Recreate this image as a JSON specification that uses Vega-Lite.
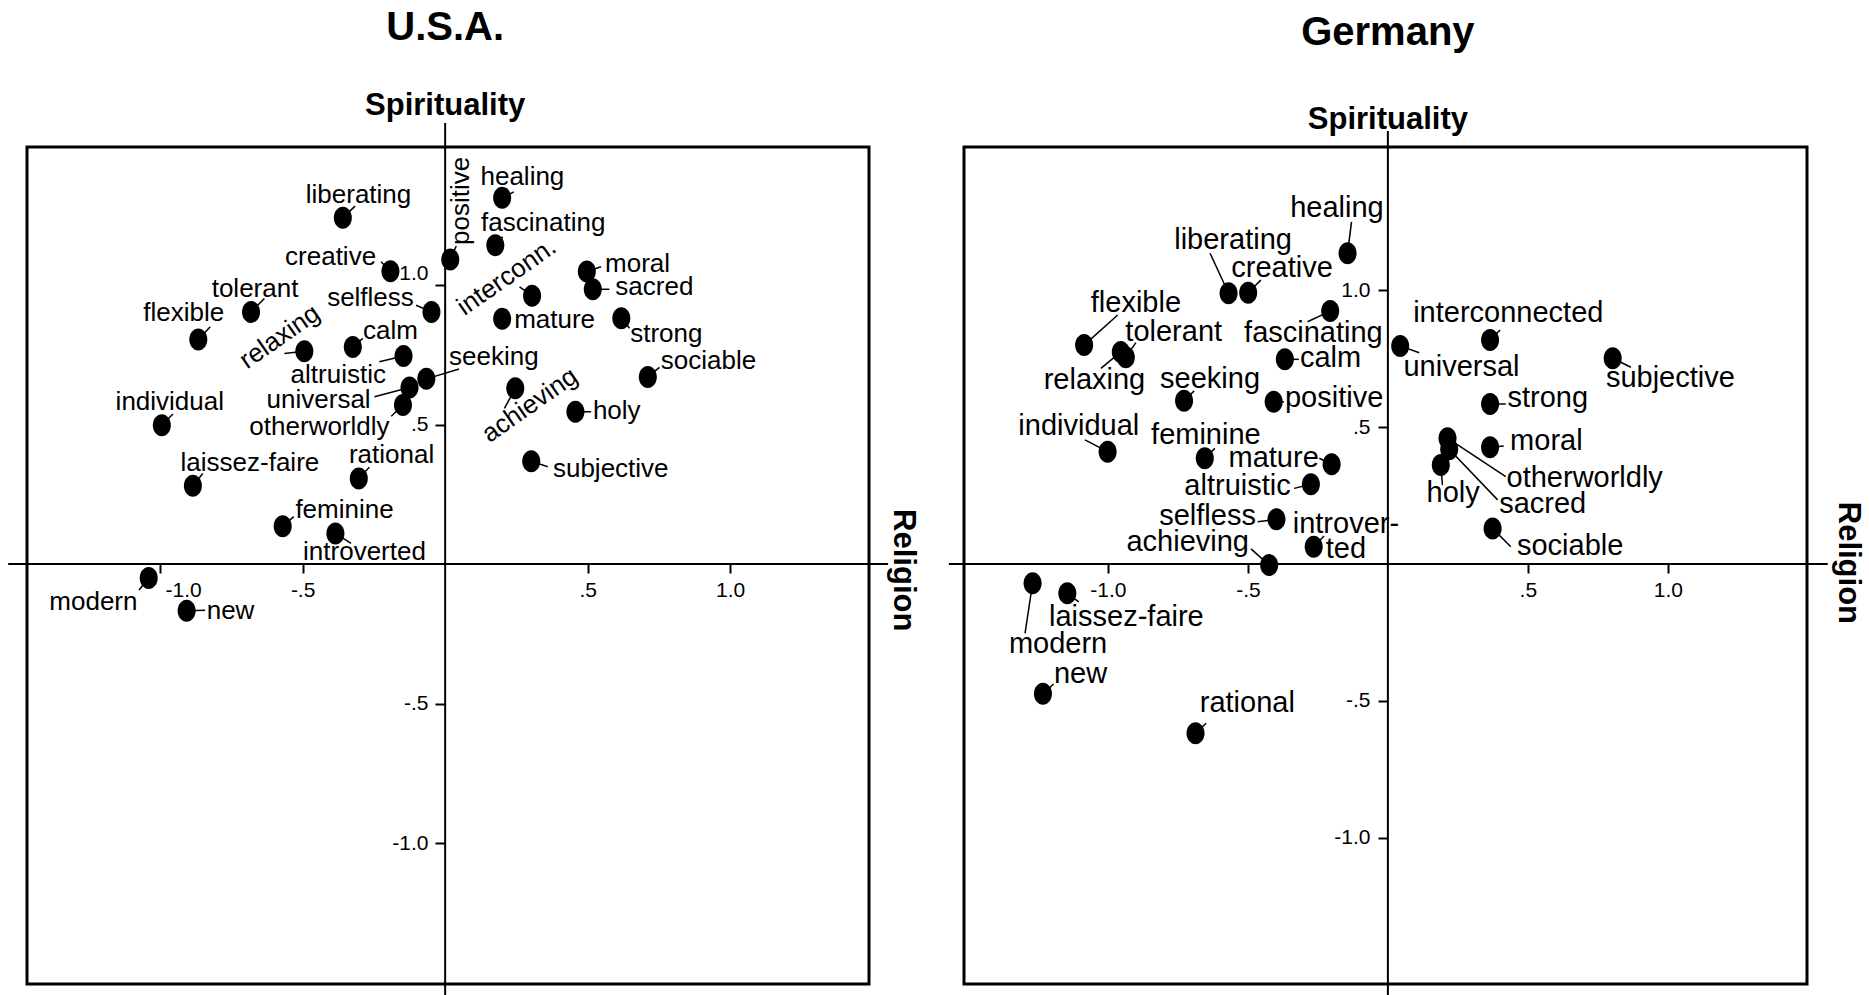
{
  "$schema": "https://vega.github.io/schema/vega-lite/v6.json",
  "background": "white",
  "padding": {"left": 5, "top": 6, "right": 0, "bottom": 0},
  "autosize": {"type": "pad"},
  "config": {
    "view": {"stroke": "black", "strokeWidth": 3},
    "text": {"font": "Liberation Sans", "color": "black"},
    "axis": {"labelFont": "Liberation Sans"}
  },
  "bounds": "flush",
  "spacing": 95,
  "datasets": {
    "terms": [
      {"country": "U.S.A.", "term": "healing", "label": "healing", "x": 0.200, "y": 1.313, "lx": 0.271, "ly": 1.358, "ex": 0.241, "ey": 1.334},
      {"country": "U.S.A.", "term": "liberating", "label": "liberating", "x": -0.359, "y": 1.241, "lx": -0.304, "ly": 1.295, "ex": -0.316, "ey": 1.283},
      {"country": "U.S.A.", "term": "creative", "label": "creative", "x": -0.192, "y": 1.050, "lx": -0.402, "ly": 1.072, "ex": -0.225, "ey": 1.084},
      {"country": "U.S.A.", "term": "positive", "label": "positive", "x": 0.018, "y": 1.092, "lx": 0.085, "ly": 1.302, "ex": 0.039, "ey": 1.140},
      {"country": "U.S.A.", "term": "fascinating", "label": "fascinating", "x": 0.176, "y": 1.143, "lx": 0.344, "ly": 1.194, "ex": 0.202, "ey": 1.173},
      {"country": "U.S.A.", "term": "interconnected", "label": "interconn.", "x": 0.305, "y": 0.962, "lx": 0.232, "ly": 1.006, "ex": 0.261, "ey": 0.994},
      {"country": "U.S.A.", "term": "moral", "label": "moral", "x": 0.497, "y": 1.049, "lx": 0.675, "ly": 1.048, "ex": 0.547, "ey": 1.066},
      {"country": "U.S.A.", "term": "sacred", "label": "sacred", "x": 0.518, "y": 0.985, "lx": 0.734, "ly": 0.964, "ex": 0.576, "ey": 0.985},
      {"country": "U.S.A.", "term": "tolerant", "label": "tolerant", "x": -0.681, "y": 0.904, "lx": -0.667, "ly": 0.958, "ex": -0.634, "ey": 0.952},
      {"country": "U.S.A.", "term": "selfless", "label": "selfless", "x": -0.048, "y": 0.904, "lx": -0.262, "ly": 0.926, "ex": -0.102, "ey": 0.928},
      {"country": "U.S.A.", "term": "flexible", "label": "flexible", "x": -0.866, "y": 0.805, "lx": -0.917, "ly": 0.872, "ex": -0.824, "ey": 0.851},
      {"country": "U.S.A.", "term": "mature", "label": "mature", "x": 0.200, "y": 0.879, "lx": 0.384, "ly": 0.848, "ex": 0.200, "ey": 0.879},
      {"country": "U.S.A.", "term": "strong", "label": "strong", "x": 0.618, "y": 0.881, "lx": 0.776, "ly": 0.797, "ex": 0.647, "ey": 0.845},
      {"country": "U.S.A.", "term": "relaxing", "label": "relaxing", "x": -0.494, "y": 0.763, "lx": -0.564, "ly": 0.791, "ex": -0.564, "ey": 0.755},
      {"country": "U.S.A.", "term": "calm", "label": "calm", "x": -0.324, "y": 0.778, "lx": -0.192, "ly": 0.806, "ex": -0.289, "ey": 0.809},
      {"country": "U.S.A.", "term": "altruistic", "label": "altruistic", "x": -0.146, "y": 0.746, "lx": -0.375, "ly": 0.648, "ex": -0.231, "ey": 0.725},
      {"country": "U.S.A.", "term": "sociable", "label": "sociable", "x": 0.711, "y": 0.671, "lx": 0.924, "ly": 0.701, "ex": 0.752, "ey": 0.705},
      {"country": "U.S.A.", "term": "seeking", "label": "seeking", "x": -0.066, "y": 0.664, "lx": 0.171, "ly": 0.713, "ex": 0.049, "ey": 0.699},
      {"country": "U.S.A.", "term": "universal", "label": "universal", "x": -0.125, "y": 0.633, "lx": -0.444, "ly": 0.558, "ex": -0.248, "ey": 0.600},
      {"country": "U.S.A.", "term": "achieving", "label": "achieving", "x": 0.246, "y": 0.630, "lx": 0.313, "ly": 0.546, "ex": 0.208, "ey": 0.558},
      {"country": "U.S.A.", "term": "otherworldly", "label": "otherworldly", "x": -0.148, "y": 0.570, "lx": -0.441, "ly": 0.462, "ex": -0.189, "ey": 0.530},
      {"country": "U.S.A.", "term": "holy", "label": "holy", "x": 0.457, "y": 0.546, "lx": 0.602, "ly": 0.519, "ex": 0.512, "ey": 0.546},
      {"country": "U.S.A.", "term": "individual", "label": "individual", "x": -0.994, "y": 0.498, "lx": -0.966, "ly": 0.554, "ex": -0.955, "ey": 0.538},
      {"country": "U.S.A.", "term": "subjective", "label": "subjective", "x": 0.302, "y": 0.369, "lx": 0.581, "ly": 0.313, "ex": 0.360, "ey": 0.349},
      {"country": "U.S.A.", "term": "rational", "label": "rational", "x": -0.303, "y": 0.307, "lx": -0.188, "ly": 0.361, "ex": -0.266, "ey": 0.347},
      {"country": "U.S.A.", "term": "laissez-faire", "label": "laissez-faire", "x": -0.885, "y": 0.281, "lx": -0.685, "ly": 0.334, "ex": -0.850, "ey": 0.325},
      {"country": "U.S.A.", "term": "feminine", "label": "feminine", "x": -0.570, "y": 0.136, "lx": -0.353, "ly": 0.164, "ex": -0.531, "ey": 0.170},
      {"country": "U.S.A.", "term": "introverted", "label": "introverted", "x": -0.385, "y": 0.110, "lx": -0.283, "ly": 0.014, "ex": -0.330, "ey": 0.074},
      {"country": "U.S.A.", "term": "modern", "label": "modern", "x": -1.040, "y": -0.050, "lx": -1.234, "ly": -0.165, "ex": -1.074, "ey": -0.093},
      {"country": "U.S.A.", "term": "new", "label": "new", "x": -0.907, "y": -0.167, "lx": -0.753, "ly": -0.195, "ex": -0.842, "ey": -0.165},

      {"country": "Germany", "term": "healing", "label": "healing", "x": -0.144, "y": 1.134, "lx": -0.182, "ly": 1.268, "ex": -0.130, "ey": 1.249},
      {"country": "Germany", "term": "liberating", "label": "liberating", "x": -0.569, "y": 0.988, "lx": -0.553, "ly": 1.150, "ex": -0.635, "ey": 1.134},
      {"country": "Germany", "term": "creative", "label": "creative", "x": -0.499, "y": 0.990, "lx": -0.378, "ly": 1.049, "ex": -0.454, "ey": 1.036},
      {"country": "Germany", "term": "flexible", "label": "flexible", "x": -1.085, "y": 0.799, "lx": -0.900, "ly": 0.921, "ex": -0.965, "ey": 0.909},
      {"country": "Germany", "term": "tolerant", "label": "tolerant", "x": -0.936, "y": 0.755, "lx": -0.765, "ly": 0.815, "ex": -0.900, "ey": 0.808},
      {"country": "Germany", "term": "relaxing", "label": "relaxing", "x": -0.954, "y": 0.774, "lx": -1.048, "ly": 0.638, "ex": -1.025, "ey": 0.714},
      {"country": "Germany", "term": "fascinating", "label": "fascinating", "x": -0.206, "y": 0.923, "lx": -0.266, "ly": 0.811, "ex": -0.287, "ey": 0.884},
      {"country": "Germany", "term": "calm", "label": "calm", "x": -0.368, "y": 0.747, "lx": -0.205, "ly": 0.718, "ex": -0.318, "ey": 0.747},
      {"country": "Germany", "term": "seeking", "label": "seeking", "x": -0.728, "y": 0.596, "lx": -0.635, "ly": 0.641, "ex": -0.692, "ey": 0.632},
      {"country": "Germany", "term": "positive", "label": "positive", "x": -0.408, "y": 0.592, "lx": -0.192, "ly": 0.574, "ex": -0.371, "ey": 0.592},
      {"country": "Germany", "term": "individual", "label": "individual", "x": -1.001, "y": 0.410, "lx": -1.104, "ly": 0.471, "ex": -1.082, "ey": 0.453},
      {"country": "Germany", "term": "feminine", "label": "feminine", "x": -0.654, "y": 0.386, "lx": -0.650, "ly": 0.438, "ex": -0.618, "ey": 0.422},
      {"country": "Germany", "term": "mature", "label": "mature", "x": -0.201, "y": 0.364, "lx": -0.408, "ly": 0.355, "ex": -0.245, "ey": 0.386},
      {"country": "Germany", "term": "altruistic", "label": "altruistic", "x": -0.275, "y": 0.291, "lx": -0.537, "ly": 0.252, "ex": -0.335, "ey": 0.276},
      {"country": "Germany", "term": "selfless", "label": "selfless", "x": -0.398, "y": 0.163, "lx": -0.644, "ly": 0.142, "ex": -0.465, "ey": 0.154},
      {"country": "Germany", "term": "introverted", "label": "introver-\nted", "x": -0.265, "y": 0.063, "lx": -0.150, "ly": 0.112, "ex": -0.228, "ey": 0.102},
      {"country": "Germany", "term": "achieving", "label": "achieving", "x": -0.424, "y": -0.004, "lx": -0.715, "ly": 0.049, "ex": -0.489, "ey": 0.055},
      {"country": "Germany", "term": "universal", "label": "universal", "x": 0.044, "y": 0.796, "lx": 0.263, "ly": 0.686, "ex": 0.112, "ey": 0.771},
      {"country": "Germany", "term": "interconnected", "label": "interconnected", "x": 0.365, "y": 0.818, "lx": 0.430, "ly": 0.884, "ex": 0.401, "ey": 0.854},
      {"country": "Germany", "term": "subjective", "label": "subjective", "x": 0.803, "y": 0.751, "lx": 1.009, "ly": 0.647, "ex": 0.868, "ey": 0.718},
      {"country": "Germany", "term": "strong", "label": "strong", "x": 0.365, "y": 0.584, "lx": 0.571, "ly": 0.572, "ex": 0.421, "ey": 0.584},
      {"country": "Germany", "term": "moral", "label": "moral", "x": 0.365, "y": 0.426, "lx": 0.566, "ly": 0.416, "ex": 0.414, "ey": 0.431},
      {"country": "Germany", "term": "otherworldly", "label": "otherworldly", "x": 0.213, "y": 0.459, "lx": 0.703, "ly": 0.282, "ex": 0.421, "ey": 0.319},
      {"country": "Germany", "term": "sacred", "label": "sacred", "x": 0.219, "y": 0.419, "lx": 0.553, "ly": 0.187, "ex": 0.392, "ey": 0.234},
      {"country": "Germany", "term": "holy", "label": "holy", "x": 0.189, "y": 0.361, "lx": 0.233, "ly": 0.227, "ex": 0.195, "ey": 0.288},
      {"country": "Germany", "term": "sociable", "label": "sociable", "x": 0.374, "y": 0.130, "lx": 0.651, "ly": 0.033, "ex": 0.439, "ey": 0.063},
      {"country": "Germany", "term": "modern", "label": "modern", "x": -1.269, "y": -0.070, "lx": -1.178, "ly": -0.326, "ex": -1.296, "ey": -0.253},
      {"country": "Germany", "term": "laissez-faire", "label": "laissez-faire", "x": -1.145, "y": -0.107, "lx": -0.934, "ly": -0.226, "ex": -1.104, "ey": -0.138},
      {"country": "Germany", "term": "new", "label": "new", "x": -1.232, "y": -0.474, "lx": -1.098, "ly": -0.433, "ex": -1.194, "ey": -0.438},
      {"country": "Germany", "term": "rational", "label": "rational", "x": -0.687, "y": -0.618, "lx": -0.502, "ly": -0.539, "ex": -0.649, "ey": -0.581}
    ]
  },
  "hconcat": [
    {
      "width": 842,
      "height": 837,
      "layer": [
        {
          "data": {"values": [{}]},
          "mark": {"type": "rule", "color": "black", "strokeWidth": 2},
          "encoding": {
            "x": {"datum": -1.533, "type": "quantitative"},
            "x2": {"datum": 1.554},
            "y": {"datum": 0, "type": "quantitative"}
          }
        },
        {
          "data": {"values": [{}]},
          "mark": {"type": "rule", "color": "black", "strokeWidth": 2},
          "encoding": {
            "x": {"datum": 0, "type": "quantitative"},
            "y": {"datum": 1.581, "type": "quantitative"},
            "y2": {"datum": -1.545}
          }
        },
        {
          "data": {"name": "terms"},
          "transform": [{"filter": "datum.country == 'U.S.A.'"}],
          "mark": {"type": "rule", "color": "black", "strokeWidth": 1.5},
          "encoding": {
            "x": {"field": "x", "type": "quantitative", "title": null},
            "y": {"field": "y", "type": "quantitative", "title": null},
            "x2": {"field": "ex"},
            "y2": {"field": "ey"}
          }
        },
        {
          "data": {"name": "terms"},
          "transform": [{"filter": "datum.country == 'U.S.A.'"}],
          "mark": {"type": "point", "filled": true, "opacity": 1, "color": "black", "size": 484, "shape": "M-0.82,0A0.82,1,0,1,0,0.82,0A0.82,1,0,1,0,-0.82,0Z"},
          "encoding": {
            "x": {"field": "x", "type": "quantitative", "title": null,
              "scale": {"domain": [-1.467, 1.487], "nice": false, "zero": false},
              "axis": {"orient": "bottom", "offset": -420, "values": [-1, -0.5, 0.5, 1], "domain": false, "grid": false, "ticks": true, "tickSize": 9, "tickWidth": 2, "tickColor": "black", "labelFontSize": 21, "labelColor": "black", "labelPadding": 6, "labelOverlap": false, "labelFlush": false,
                "labelAlign": {"condition": {"test": "datum.value == -1", "value": "left"}, "value": "center"},
                "labelOffset": {"condition": {"test": "datum.value == -1", "value": 5}, "value": 0},
                "labelExpr": "datum.value == -1 ? '-1.0' : datum.value == -0.5 ? '-.5' : datum.value == 0.5 ? '.5' : '1.0'"}},
            "y": {"field": "y", "type": "quantitative", "title": null,
              "scale": {"domain": [-1.505, 1.495], "nice": false, "zero": false},
              "axis": {"orient": "left", "offset": -418, "values": [-1, -0.5, 0.5, 1], "domain": false, "grid": false, "ticks": true, "tickSize": 10, "tickWidth": 2, "tickColor": "black", "labelFontSize": 21, "labelColor": "black", "labelPadding": 7, "labelOverlap": false, "labelFlush": false,
                "labelOffset": {"condition": {"test": "datum.value == 1", "value": -12}, "value": 0},
                "labelExpr": "datum.value == -1 ? '-1.0' : datum.value == -0.5 ? '-.5' : datum.value == 0.5 ? '.5' : '1.0'"}}
          }
        },
        {
          "data": {"name": "terms"},
          "transform": [{"filter": "datum.country == 'U.S.A.' && indexof(['relaxing','interconnected','achieving','positive'], datum.term) < 0"}],
          "mark": {"type": "text", "align": "center", "baseline": "alphabetic", "fontSize": 26},
          "encoding": {
            "x": {"field": "lx", "type": "quantitative", "title": null},
            "y": {"field": "ly", "type": "quantitative", "title": null},
            "text": {"field": "label"}
          }
        },
        {
          "data": {"name": "terms"},
          "transform": [{"filter": "datum.country == 'U.S.A.' && indexof(['relaxing','interconnected','achieving'], datum.term) >= 0"}],
          "mark": {"type": "text", "align": "center", "baseline": "alphabetic", "fontSize": 26, "angle": -35},
          "encoding": {
            "x": {"field": "lx", "type": "quantitative", "title": null},
            "y": {"field": "ly", "type": "quantitative", "title": null},
            "text": {"field": "label"}
          }
        },
        {
          "data": {"name": "terms"},
          "transform": [{"filter": "datum.country == 'U.S.A.' && datum.term == 'positive'"}],
          "mark": {"type": "text", "align": "center", "baseline": "alphabetic", "fontSize": 26, "angle": -90},
          "encoding": {
            "x": {"field": "lx", "type": "quantitative", "title": null},
            "y": {"field": "ly", "type": "quantitative", "title": null},
            "text": {"field": "label"}
          }
        },
        {
          "data": {"values": [{}]},
          "mark": {"type": "text", "text": "U.S.A.", "fontSize": 40, "fontWeight": "bold", "align": "center", "baseline": "alphabetic"},
          "encoding": {
            "x": {"datum": 0, "type": "quantitative"},
            "y": {"datum": 1.878, "type": "quantitative"}
          }
        },
        {
          "data": {"values": [{}]},
          "mark": {"type": "text", "text": "Spirituality", "fontSize": 31, "fontWeight": "bold", "align": "center", "baseline": "alphabetic"},
          "encoding": {
            "x": {"datum": 0, "type": "quantitative"},
            "y": {"datum": 1.610, "type": "quantitative"}
          }
        },
        {
          "data": {"values": [{}]},
          "mark": {"type": "text", "text": "Religion", "fontSize": 31, "fontWeight": "bold", "align": "center", "baseline": "alphabetic", "angle": 90},
          "encoding": {
            "x": {"datum": 1.575, "type": "quantitative"},
            "y": {"datum": -0.022, "type": "quantitative"}
          }
        }
      ]
    },
    {
      "width": 843,
      "height": 837,
      "layer": [
        {
          "data": {"values": [{}]},
          "mark": {"type": "rule", "color": "black", "strokeWidth": 2},
          "encoding": {
            "x": {"datum": -1.568, "type": "quantitative"},
            "x2": {"datum": 1.571},
            "y": {"datum": 0, "type": "quantitative"}
          }
        },
        {
          "data": {"values": [{}]},
          "mark": {"type": "rule", "color": "black", "strokeWidth": 2},
          "encoding": {
            "x": {"datum": 0, "type": "quantitative"},
            "y": {"datum": 1.580, "type": "quantitative"},
            "y2": {"datum": -1.573}
          }
        },
        {
          "data": {"name": "terms"},
          "transform": [{"filter": "datum.country == 'Germany'"}],
          "mark": {"type": "rule", "color": "black", "strokeWidth": 1.5},
          "encoding": {
            "x": {"field": "x", "type": "quantitative", "title": null},
            "y": {"field": "y", "type": "quantitative", "title": null},
            "x2": {"field": "ex"},
            "y2": {"field": "ey"}
          }
        },
        {
          "data": {"name": "terms"},
          "transform": [{"filter": "datum.country == 'Germany'"}],
          "mark": {"type": "point", "filled": true, "opacity": 1, "color": "black", "size": 484, "shape": "M-0.82,0A0.82,1,0,1,0,0.82,0A0.82,1,0,1,0,-0.82,0Z"},
          "encoding": {
            "x": {"field": "x", "type": "quantitative", "title": null,
              "scale": {"domain": [-1.514, 1.497], "nice": false, "zero": false},
              "axis": {"orient": "bottom", "offset": -420, "values": [-1, -0.5, 0.5, 1], "domain": false, "grid": false, "ticks": true, "tickSize": 9, "tickWidth": 2, "tickColor": "black", "labelFontSize": 21, "labelColor": "black", "labelPadding": 6, "labelOverlap": false, "labelFlush": false, "labelExpr": "datum.value == -1 ? '-1.0' : datum.value == -0.5 ? '-.5' : datum.value == 0.5 ? '.5' : '1.0'"}},
            "y": {"field": "y", "type": "quantitative", "title": null,
              "scale": {"domain": [-1.533, 1.522], "nice": false, "zero": false},
              "axis": {"orient": "left", "offset": -424, "values": [-1, -0.5, 0.5, 1], "domain": false, "grid": false, "ticks": true, "tickSize": 10, "tickWidth": 2, "tickColor": "black", "labelFontSize": 21, "labelColor": "black", "labelPadding": 8, "labelOverlap": false, "labelFlush": false, "labelExpr": "datum.value == -1 ? '-1.0' : datum.value == -0.5 ? '-.5' : datum.value == 0.5 ? '.5' : '1.0'"}}
          }
        },
        {
          "data": {"name": "terms"},
          "transform": [{"filter": "datum.country == 'Germany'"}],
          "mark": {"type": "text", "align": "center", "baseline": "alphabetic", "fontSize": 29, "lineBreak": "\n", "lineHeight": 25},
          "encoding": {
            "x": {"field": "lx", "type": "quantitative", "title": null},
            "y": {"field": "ly", "type": "quantitative", "title": null},
            "text": {"field": "label"}
          }
        },
        {
          "data": {"values": [{}]},
          "mark": {"type": "text", "text": "Germany", "fontSize": 40, "fontWeight": "bold", "align": "center", "baseline": "alphabetic"},
          "encoding": {
            "x": {"datum": 0, "type": "quantitative"},
            "y": {"datum": 1.894, "type": "quantitative"}
          }
        },
        {
          "data": {"values": [{}]},
          "mark": {"type": "text", "text": "Spirituality", "fontSize": 31, "fontWeight": "bold", "align": "center", "baseline": "alphabetic"},
          "encoding": {
            "x": {"datum": 0, "type": "quantitative"},
            "y": {"datum": 1.586, "type": "quantitative"}
          }
        },
        {
          "data": {"values": [{}]},
          "mark": {"type": "text", "text": "Religion", "fontSize": 31, "fontWeight": "bold", "align": "center", "baseline": "alphabetic", "angle": 90},
          "encoding": {
            "x": {"datum": 1.610, "type": "quantitative"},
            "y": {"datum": 0.004, "type": "quantitative"}
          }
        }
      ]
    }
  ]
}
